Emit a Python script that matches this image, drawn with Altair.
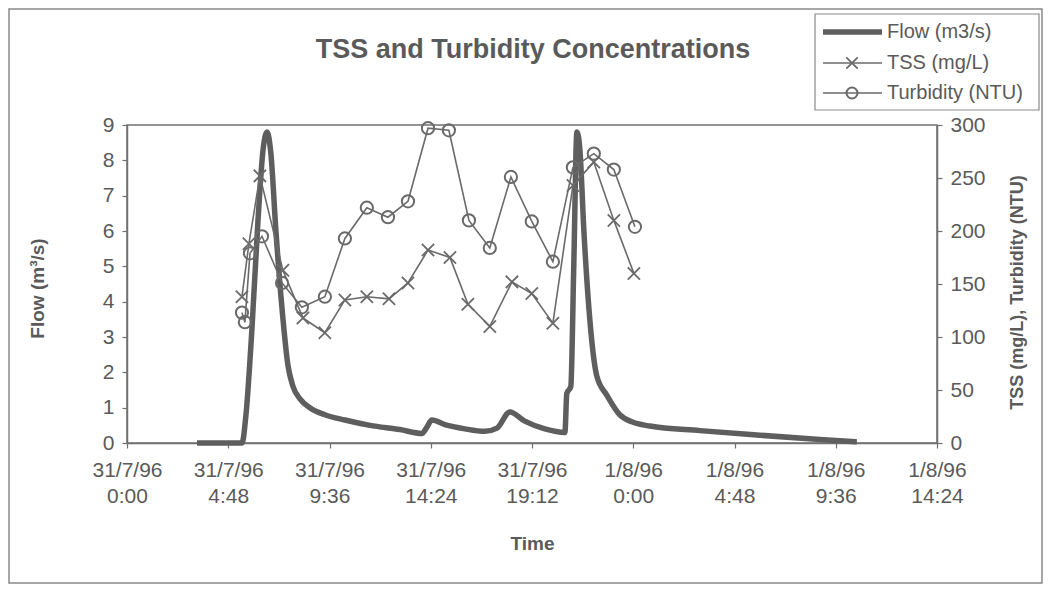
import altair as alt
import pandas as pd

# ---- data (hours since 31/7/96 0:00) ----
flow_h = [3.32, 5.45, 5.64, 5.92, 6.21, 6.45, 6.64, 6.82, 7.06, 7.35, 7.63, 7.87, 8.20, 8.67,
          9.38, 10.33, 11.52, 12.94, 13.98, 14.22, 14.45, 15.07, 16.02, 16.97, 17.54, 18.15,
          18.86, 19.81, 20.76, 20.85, 21.04, 21.18, 21.33, 21.47, 21.66, 21.94, 22.27, 22.75,
          23.36, 23.93, 24.79, 27.16, 30.00, 32.84, 34.60]
flow_v = [0.0, 0.0, 0.8, 3.2, 6.3, 8.3, 8.8, 8.2, 6.0, 3.8, 2.2, 1.6, 1.25, 1.0,
          0.8, 0.65, 0.5, 0.38, 0.27, 0.45, 0.65, 0.52, 0.4, 0.33, 0.42, 0.88,
          0.62, 0.4, 0.3, 1.4, 1.6, 5.0, 8.8, 8.3, 6.0, 3.5, 1.9, 1.35,
          0.8, 0.6, 0.48, 0.35, 0.22, 0.1, 0.03]

tss_h = [5.45, 5.78, 6.30, 7.39, 8.34, 9.38, 10.33, 11.37, 12.42, 13.32, 14.27, 15.31,
         16.16, 17.20, 18.25, 19.19, 20.19, 21.14, 22.13, 23.08, 24.03]
tss_v = [138, 188, 252, 163, 118, 104, 135, 138, 136, 151, 182, 175,
         131, 110, 152, 141, 113, 243, 265, 210, 160]

turb_h = [5.45, 5.59, 5.83, 6.40, 7.35, 8.29, 9.38, 10.33, 11.37, 12.37, 13.32, 14.27,
          15.26, 16.21, 17.20, 18.20, 19.19, 20.19, 21.14, 22.13, 23.08, 24.08]
turb_v = [123, 114, 179, 195, 151, 128, 138, 193, 222, 213, 228, 297,
          295, 210, 184, 251, 209, 171, 260, 273, 258, 204]

date_labels = ["31/7/96"] * 5 + ["1/8/96"] * 4
time_labels = ["0:00", "4:48", "9:36", "14:24", "19:12", "0:00", "4:48", "9:36", "14:24"]
legend_labels = ["Flow (m3/s)", "TSS (mg/L)", "Turbidity (NTU)"]
chart_title = "TSS and Turbidity Concentrations"

FONT = "Liberation Sans"
TXT = "#5a5a5a"
LINE = "#6a6a6a"
FLOWC = "#5e5e5e"
W, H = 810, 318
XPATH = "M-1,-1L1,1M-1,1L1,-1"

label_expr = "[" + ",".join(f"['{d}','{t}']" for d, t in zip(date_labels, time_labels)) + "][round(datum.value/4.8)]"
tick_vals = [round(4.8 * i, 1) for i in range(9)]

flow_df = pd.DataFrame({"h": flow_h, "v": flow_v})
tss_df = pd.DataFrame({"h": tss_h, "v": tss_v})
turb_df = pd.DataFrame({"h": turb_h, "v": turb_v})


def x_enc():
    return alt.X("h:Q", scale=alt.Scale(domain=[0, 38.4], nice=False, zero=False),
                 axis=alt.Axis(values=tick_vals, labelExpr=label_expr, title="Time",
                               labelFontSize=21, labelLineHeight=26, labelPadding=11,
                               labelOverlap=False, labelFlush=False, labelBound=False,
                               titleFontSize=19, titleFontWeight="bold", titleX=405, titleY=100,
                               titleBaseline="middle", titleAlign="center"))


def y_right():
    return alt.Y("v:Q", scale=alt.Scale(domain=[0, 300], nice=False),
                 axis=alt.Axis(orient="right", values=list(range(0, 301, 50)),
                               title="TSS (mg/L), Turbidity (NTU)", labelFontSize=21,
                               labelPadding=8, titleFontSize=18, titleFontWeight="bold",
                               titleX=80, titleY=167, titleAngle=270, titleAlign="center",
                               titleBaseline="middle"))


flow = alt.Chart(flow_df).mark_line(color=FLOWC, strokeWidth=5.5, strokeJoin="round",
                                    interpolate="monotone").encode(
    x=x_enc(),
    y=alt.Y("v:Q", scale=alt.Scale(domain=[0, 9], nice=False),
            axis=alt.Axis(orient="left", values=list(range(10)), title="Flow (m³/s)",
                          labelFontSize=21, labelPadding=8, titleFontSize=19,
                          titleFontWeight="bold", titleX=-90, titleY=163,
                          titleAngle=270, titleAlign="center", titleBaseline="middle")),
)

tss_line = alt.Chart(tss_df).mark_line(color=LINE, strokeWidth=1.6).encode(x=x_enc(), y=y_right())
tss_pts = alt.Chart(tss_df).mark_point(shape=XPATH, size=150, filled=False, strokeWidth=1.8,
                                       color=LINE, opacity=1).encode(x=x_enc(), y=y_right())
turb_line = alt.Chart(turb_df).mark_line(color=LINE, strokeWidth=1.6).encode(x=x_enc(), y=y_right())
turb_pts = alt.Chart(turb_df).mark_point(shape="circle", size=150, filled=False, strokeWidth=2,
                                         color=LINE, opacity=1).encode(x=x_enc(), y=y_right())

right = alt.layer(tss_line, tss_pts, turb_line, turb_pts)

one = pd.DataFrame({"k": [0]})
base = alt.Chart(one)
border = base.mark_rect(fill="transparent", stroke="#8a8a8a", strokeWidth=1.5).encode(
    x=alt.value(-118), x2=alt.value(915), y=alt.value(-116), y2=alt.value(458))
title = base.mark_text(font=FONT, fontSize=27, fontWeight="bold", color=TXT,
                       align="center", baseline="middle").encode(
    x=alt.value(406), y=alt.value(-75), text=alt.value(chart_title))
leg_box = base.mark_rect(fill="white", stroke="#8a8a8a", strokeWidth=1.2).encode(
    x=alt.value(688), x2=alt.value(912), y=alt.value(-111), y2=alt.value(-15))
leg_rows = [-93, -62, -32]
leg_layers = [leg_box]
leg_layers.append(base.mark_rule(color=FLOWC, strokeWidth=5.5).encode(
    x=alt.value(696), x2=alt.value(755), y=alt.value(leg_rows[0])))
leg_layers.append(base.mark_rule(color=LINE, strokeWidth=1.6).encode(
    x=alt.value(696), x2=alt.value(755), y=alt.value(leg_rows[1])))
leg_layers.append(base.mark_point(shape=XPATH, size=130, filled=False, strokeWidth=1.8,
                                  color=LINE, opacity=1).encode(
    x=alt.value(725), y=alt.value(leg_rows[1])))
leg_layers.append(base.mark_rule(color=LINE, strokeWidth=1.6).encode(
    x=alt.value(696), x2=alt.value(755), y=alt.value(leg_rows[2])))
leg_layers.append(base.mark_point(shape="circle", size=120, filled=False, strokeWidth=2,
                                  color=LINE, opacity=1).encode(
    x=alt.value(725), y=alt.value(leg_rows[2])))
for lab, yy in zip(legend_labels, leg_rows):
    leg_layers.append(base.mark_text(font=FONT, fontSize=20, color=TXT, align="left",
                                     baseline="middle").encode(
        x=alt.value(760), y=alt.value(yy), text=alt.value(lab)))

chart = alt.layer(flow, right, border, title, *leg_layers).resolve_scale(
    y="independent"
).properties(
    width=W, height=H,
    autosize=alt.AutoSizeParams(type="none"),
    padding={"left": 119, "top": 117, "right": 106, "bottom": 142},
).configure(
    font=FONT,
).configure_view(
    stroke="#707070", strokeWidth=1.5,
).configure_axis(
    grid=False, domainColor="#707070", domainWidth=1.5, tickColor="#707070",
    tickSize=5, tickWidth=1.2, labelColor=TXT, titleColor=TXT,
    labelFont=FONT, titleFont=FONT,
)

chart.save("out.html", embed_options={"renderer": "svg", "actions": False})
